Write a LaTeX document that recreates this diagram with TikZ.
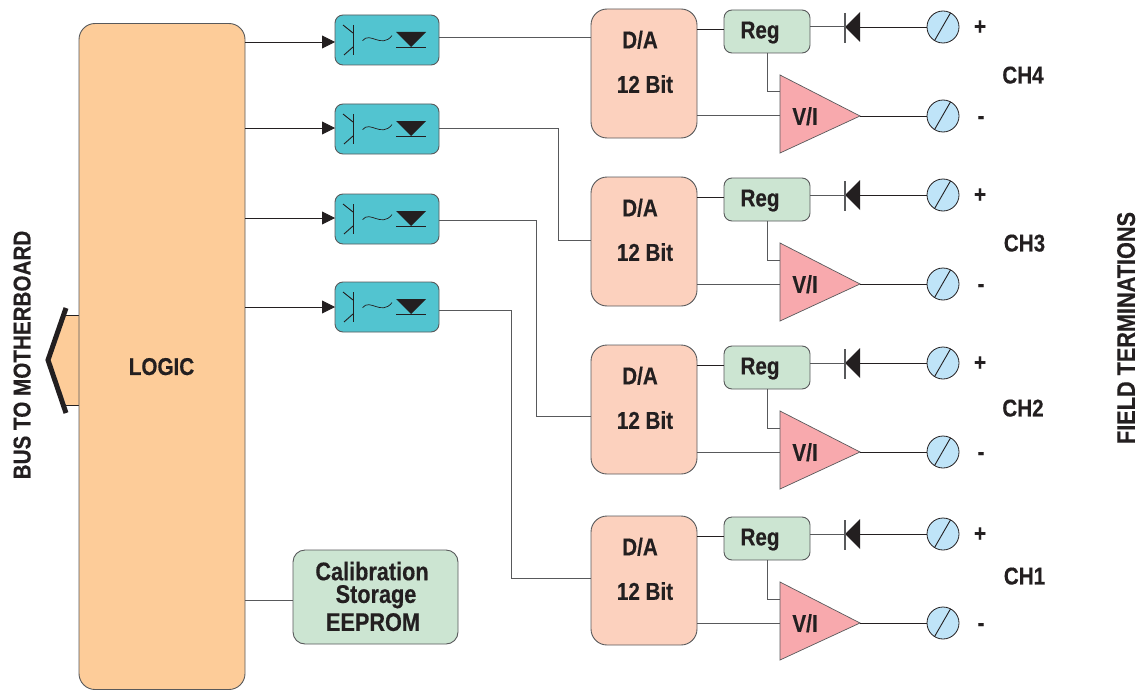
\documentclass[tikz,border=0pt]{standalone}
\usepackage{fontspec}
\setmainfont{Liberation Sans}[FakeStretch=0.85,FakeBold=0.35]
\usetikzlibrary{shapes.geometric,arrows.meta}
\definecolor{ink}{HTML}{231F20}
\definecolor{wire}{HTML}{58595B}
\definecolor{logicfill}{HTML}{FDCC99}
\definecolor{dafill}{HTML}{FCD1BE}
\definecolor{regfill}{HTML}{CCE5D2}
\definecolor{optofill}{HTML}{52C4D0}
\definecolor{vifill}{HTML}{F8A9AD}
\definecolor{termfill}{HTML}{BFE4F8}
\tikzset{
  lab/.style={font=\bfseries\fontsize{24.3}{26}\selectfont, text=ink, inner sep=0pt, text depth=0pt},
  biglab/.style={lab, font=\bfseries\fontsize{25.5}{27}\selectfont},
  boxbase/.style={draw=wire, line width=0.9pt, rounded corners=#1, inner sep=0pt, outer sep=0pt},
  logicbox/.style={boxbase=16pt, fill=logicfill, minimum width=166pt, minimum height=666pt},
  dabox/.style={boxbase=16pt, fill=dafill, minimum width=106pt, minimum height=129pt},
  regbox/.style={boxbase=8pt, fill=regfill, minimum width=86pt, minimum height=43pt},
  optobox/.style={boxbase=8pt, fill=optofill, minimum width=104pt, minimum height=50pt},
  eebox/.style={boxbase=12pt, fill=regfill, minimum width=165pt, minimum height=94pt},
  vitri/.style={draw=wire, line width=0.7pt, fill=vifill},
  dio/.style={shape=isosceles triangle, isosceles triangle stretches, shape border rotate=180,
    fill=ink, minimum width=30pt, minimum height=15pt, inner sep=0pt, outer sep=0pt, anchor=apex},
  term/.style={shape=circle, draw=ink, line width=0.8pt, fill=termfill, minimum size=32pt, inner sep=0pt, outer sep=0pt},
  conn/.style={draw=ink, line width=0.9pt},
  graywire/.style={draw=wire, line width=1pt},
  arr/.style={conn, -{Triangle[length=13pt,width=13pt,fill=ink]}},
  sym/.style={draw=ink, line width=0.9pt}
}
\newcommand{\chan}[2]{%
\begin{scope}[shift={(0,#2)}]
  \node[dabox] (da#1) at (644,73.5) {};
  \node[lab] (dat#1) at (640,39.5) {D/A};
  \node[lab] (bit#1) at (645,84) {12 Bit};
  \node[regbox] (reg#1) at (767,31.5) {};
  \node[lab] (regt#1) at (760,30) {Reg};
  \draw[vitri] (780,75) -- (860,116) -- (780,153) -- cycle;
  \coordinate (viw#1) at (780,116);
  \coordinate (vie#1) at (860,116);
  \coordinate (viin#1) at (780,92);
  \node[lab] (vit#1) at (805,116) {V/I};
  \node[dio] (d#1) at (845,27) {};
  \node[term] (tp#1) at (943,27) {};
  \node[term] (tm#1) at (943,116) {};
  \draw[conn] (da#1.east |- 0,29) -- (reg#1.west |- 0,29);
  \draw[graywire] (reg#1.east |- d#1.west) -- (d#1.west);
  \draw[draw=wire,line width=1.1pt] (d#1.apex |- 0,13) -- (d#1.apex |- 0,43);
  \draw[conn] (d#1.east) -- (tp#1.west);
  \draw[graywire] (reg#1.south) |- (viin#1);
  \draw[graywire] (da#1.east |- viw#1) -- (viw#1);
  \draw[conn] (vie#1) -- (tm#1.west);
  \draw[sym] (tp#1.-122) -- (tp#1.62);
  \draw[sym] (tm#1.-122) -- (tm#1.62);
\end{scope}}
\newcommand{\opto}[2]{%
\begin{scope}[shift={(0,#2)}]
  \node[optobox] (o#1) at (387,40) {};
  \draw[sym] (353,25) -- (353,55);
  \draw[sym] (343,25) -- (353,33);
  \draw[sym] (353,47) -- (344,55);
  \draw[sym,line width=0.7pt] (362.5,40.7) .. controls (370,31) and (381,49) .. (392,35.7);
  \fill[ink] (396,32) -- (426,32) -- (411,47) -- cycle;
  \draw[sym] (396,47.5) -- (426,47.5);
\end{scope}}
\begin{document}
\begin{tikzpicture}[x=1pt,y=-1pt]
\useasboundingbox (0,0) rectangle (1147,690);
% bus connector
\path[fill=logicfill] (66,315) -- (79,315) -- (79,405) -- (66,405) -- (50,360) -- cycle;
\draw[conn] (66,315) -- (79,315);
\draw[conn] (66,405) -- (79,405);
\draw[draw=ink,line width=5pt] (66,308) -- (48,360) -- (66,413);
\node[logicbox] (logic) at (162,356.5) {};
\node[lab] (logict) at (161.5,366.5) {LOGIC};
\opto{1}{0}
\opto{2}{89}
\opto{3}{179}
\opto{4}{267}
\chan{4}{0}
\chan{3}{168}
\chan{2}{336}
\chan{1}{507}
\coordinate (i1) at (335,42);
\coordinate (i2) at (335,128);
\coordinate (i3) at (335,218);
\coordinate (i4) at (335,307);
\draw[arr] (logic.east |- i1) -- (o1.west |- i1);
\draw[arr] (logic.east |- i2) -- (o2.west |- i2);
\draw[arr] (logic.east |- i3) -- (o3.west |- i3);
\draw[arr] (logic.east |- i4) -- (o4.west |- i4);
\coordinate (w1) at (439,38);
\coordinate (w2) at (439,128);
\coordinate (w3) at (439,220);
\coordinate (w4) at (439,310);
\draw[graywire] (o1.east |- w1) -- (da4.west |- w1);
\draw[graywire] (o2.east |- w2) -| (558,240) -- (da3.west |- 0,240);
\draw[graywire] (o3.east |- w3) -| (536,416) -- (da2.west |- 0,416);
\draw[graywire] (o4.east |- w4) -| (511,578) -- (da1.west |- 0,578);
% EEPROM
\node[eebox] (ee) at (375.5,597) {};
\draw[graywire] (logic.east |- 0,600) -- (ee.west |- 0,600);
\node[biglab] (ee1) at (372,571) {Calibration};
\node[biglab] (ee2) at (376,594) {Storage};
\node[biglab] (ee3) at (373,622) {EEPROM};
% signs and channel labels
\foreach \n/\dy in {a/0,b/168,c/336,d/507}{
  \node[lab] (plus\n) at (980,27.5+\dy) {+};
  \node[lab] (minus\n) at (981,120+\dy) {-};
}
\node[lab] (ch4) at (1023,75) {CH4};
\node[lab] (ch3) at (1024.5,243) {CH3};
\node[lab] (ch2) at (1023,408) {CH2};
\node[lab] (ch1) at (1024.5,576) {CH1};
\node[lab,rotate=90] (bus) at (22,355) {BUS TO MOTHERBOARD};
\node[biglab,rotate=90] (field) at (1126,328) {FIELD TERMINATIONS};
\end{tikzpicture}
\end{document}
